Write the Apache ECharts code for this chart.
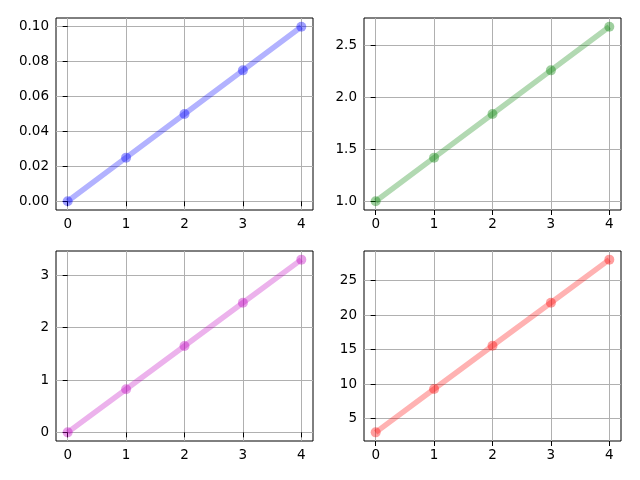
<!DOCTYPE html>
<html>
<head>
<meta charset="utf-8">
<script src="https://cdn.jsdelivr.net/npm/echarts@6/dist/echarts.min.js"></script>
<style>
  html, body { margin: 0; padding: 0; background: #fff; }
  #chart { width: 640px; height: 480px; }
</style>
</head>
<body>
<div id="chart"></div>
<script>
// x positions shared by all four panels
const xValues = [0, 1, 2, 3, 4];
const xTicks = [0, 1, 2, 3, 4];

// series values
const blueValues = [0, 0.025, 0.05, 0.075, 0.1];
const greenValues = [1.0, 1.42, 1.84, 2.26, 2.68];
const magentaValues = [0, 0.825, 1.65, 2.475, 3.3];
const redValues = [3, 9.3, 15.55, 21.8, 28.05];

// y tick labels per panel
const blueTicks = [0, 0.02, 0.04, 0.06, 0.08, 0.10];
const greenTicks = [1.0, 1.5, 2.0, 2.5];
const magentaTicks = [0, 1, 2, 3];
const redTicks = [5, 10, 15, 20, 25];

const panels = [
  { values: blueValues, ticks: blueTicks, digits: 2, color: '#0000ff', left: 56, top: 18, height: 192 },
  { values: greenValues, ticks: greenTicks, digits: 1, color: '#008000', left: 364, top: 18, height: 192 },
  { values: magentaValues, ticks: magentaTicks, digits: 0, color: '#bf00bf', left: 56, top: 251, height: 190 },
  { values: redValues, ticks: redTicks, digits: 0, color: '#ff0000', left: 364, top: 251, height: 190 }
];

// matplotlib style 5% margins
function padded(arr) {
  const lo = Math.min(...arr), hi = Math.max(...arr);
  const m = (hi - lo) * 0.05;
  return [lo - m, hi + m];
}

const font = { fontFamily: 'DejaVu Sans', fontSize: 13.5, color: '#000' };
const grids = [], xAxes = [], yAxes = [], series = [];
const xr = padded(xValues);

panels.forEach(function (p, i) {
  grids.push({
    left: p.left, top: p.top, width: 257, height: p.height,
    show: true, borderColor: '#000', borderWidth: 1, backgroundColor: 'transparent'
  });
  xAxes.push({
    type: 'value', gridIndex: i, min: xr[0], max: xr[1],
    axisLine: { show: false },
    axisTick: { show: true, inside: false, length: 5, lineStyle: { color: '#000', width: 1 }, customValues: xTicks },
    axisLabel: Object.assign({ margin: 7, customValues: xTicks, formatter: function (v) { return String(v); } }, font),
    splitLine: { show: true, lineStyle: { color: '#b0b0b0', width: 1 } }
  });
  const yr = padded(p.values);
  yAxes.push({
    type: 'value', gridIndex: i, min: yr[0], max: yr[1],
    axisLine: { show: false },
    axisTick: { show: true, inside: false, length: 5, lineStyle: { color: '#000', width: 1 }, customValues: p.ticks },
    axisLabel: Object.assign({ margin: 7, customValues: p.ticks, formatter: function (v) { return v.toFixed(p.digits); } }, font),
    splitLine: { show: true, lineStyle: { color: '#b0b0b0', width: 1 } }
  });
  series.push({
    type: 'line', xAxisIndex: i, yAxisIndex: i,
    data: xValues.map(function (x, k) { return [x, p.values[k]]; }),
    symbol: 'circle', symbolSize: 10, showSymbol: true,
    lineStyle: { color: p.color, width: 5.5, opacity: 0.3 },
    itemStyle: { color: p.color, opacity: 0.38, borderWidth: 0 },
    emphasis: { disabled: true },
    animation: false,
    z: 3
  });
});

const myChart = echarts.init(document.getElementById('chart'));
myChart.setOption({
  backgroundColor: '#fff',
  animation: false,
  grid: grids,
  xAxis: xAxes,
  yAxis: yAxes,
  series: series
});
</script>
</body>
</html>
